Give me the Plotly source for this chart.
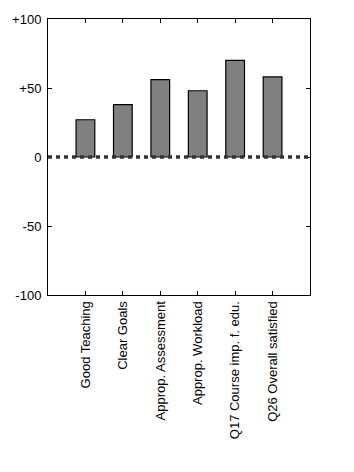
import plotly.graph_objects as go

categories = ["Good Teaching", "Clear Goals", "Approp. Assessment", "Approp. Workload",
              "Q17 Course imp. f. edu.", "Q26 Overall satisfied"]
values = [27, 38, 56, 48, 70, 58]
positions = [1, 2, 3, 4, 5, 6]
ytick_vals = [-100, -50, 0, 50, 100]
ytick_text = ["-100", "-50", "0", "+50", "+100"]

fig = go.Figure()
fig.add_trace(go.Bar(
    x=positions, y=values, width=0.5,
    marker=dict(color="#808080", line=dict(color="black", width=1.2)),
))
fig.add_shape(type="line", xref="paper", x0=0, x1=1, yref="y", y0=0, y1=0,
              line=dict(color="#333333", width=3.5, dash="4px,4px"), layer="above")

axis_common = dict(showgrid=False, zeroline=False, showline=True, linecolor="black",
                   linewidth=1, mirror="ticks", ticks="inside", ticklen=4,
                   tickcolor="black", tickfont=dict(family="Liberation Sans, Arial", size=13, color="black"))
fig.update_layout(
    width=354, height=472,
    margin=dict(l=46, r=44, t=17, b=177),
    plot_bgcolor="white", paper_bgcolor="white",
    showlegend=False,
    xaxis=dict(range=[0, 7], tickvals=positions, ticktext=categories, tickangle=-90, **axis_common),
    yaxis=dict(range=[-100, 100], tickvals=ytick_vals, ticktext=ytick_text, ticklabelstandoff=3, **axis_common),
)
fig.write_html("out.html")
